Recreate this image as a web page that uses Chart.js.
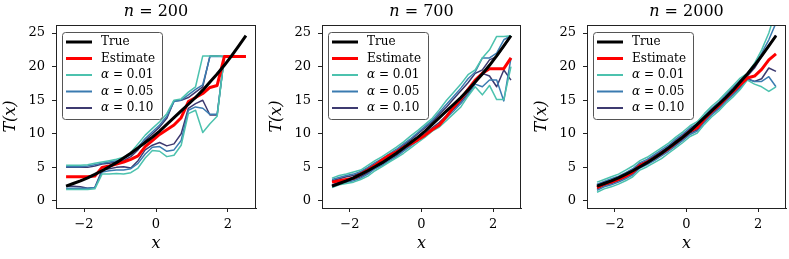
<!DOCTYPE html>
<html>
<head>
<meta charset="utf-8">
<script src="https://cdn.jsdelivr.net/npm/chart.js@4.4.0/dist/chart.umd.min.js"></script>
<style>
  body { margin: 0; background: #fff; }
  #wrap { position: relative; width: 789px; height: 259px; }
  .panel { position: absolute; top: 0; width: 263px; height: 259px; }
</style>
</head>
<body>
<div id="wrap">
  <div class="panel" style="left:0px"><canvas id="c1" width="263" height="259"></canvas></div>
  <div class="panel" style="left:263px"><canvas id="c2" width="263" height="259"></canvas></div>
  <div class="panel" style="left:526px"><canvas id="c3" width="263" height="259"></canvas></div>
</div>
<script>
// grid of x values and tick labels
const xs = [-2.5,-2.3,-2.1,-1.9,-1.7,-1.5,-1.3,-1.1,-0.9,-0.7,-0.5,-0.3,-0.1,0.1,0.3,0.5,0.7,0.9,1.1,1.3,1.5,1.7,1.9,2.1,2.3,2.5];
const xTicks = [-2, 0, 2];
const yTicks = [0, 5, 10, 15, 20, 25];
const sampleSizes = [200, 700, 2000];
const alphaLabels = ["0.01", "0.05", "0.10"];

// true curve (same in every panel)
const trueCurve = [2.2,2.6,3.0,3.45,3.95,4.5,5.1,5.7,6.4,7.1,7.9,8.7,9.5,10.4,11.4,12.4,13.4,14.4,15.4,16.5,17.7,18.9,20.2,21.6,23.1,24.6];

// n = 200
const est200 = [3.6,3.6,3.6,3.6,3.7,5.0,5.2,5.5,5.8,6.2,6.7,8.1,9.0,9.9,10.6,11.3,12.4,14.8,15.4,16.0,16.9,17.2,21.5,21.5,21.5,21.5];
const up01_200 = [5.3,5.3,5.3,5.4,5.6,5.8,6.0,6.2,6.5,7.2,8.5,9.8,10.8,11.8,13.0,15.0,15.2,16.2,17.0,21.6,21.6,21.6,21.5,21.5,21.5,21.5];
const up05_200 = [5.1,5.1,5.1,5.2,5.4,5.6,5.8,6.0,6.3,6.9,8.0,9.3,10.3,11.3,12.6,14.8,15.0,15.8,16.6,17.3,21.5,21.5,21.5,21.5,21.5,21.5];
const up10_200 = [5.0,5.0,5.0,5.0,5.2,5.5,5.6,5.8,6.0,6.6,7.6,9.0,10.0,11.0,12.3,14.9,15.0,15.4,16.2,17.0,21.6,21.6,21.5,21.5,21.5,21.5];
const lo01_200 = [1.7,1.7,1.7,1.7,1.8,4.0,4.0,4.1,4.0,4.2,4.9,6.4,7.5,7.4,6.6,6.8,8.3,13.0,13.5,10.2,11.5,12.6,21.5,21.5,21.5,21.5];
const lo05_200 = [1.9,1.9,1.9,1.9,2.0,4.3,4.5,4.6,4.6,4.8,5.6,7.0,8.0,8.1,7.4,7.6,9.0,13.5,14.0,13.8,12.9,12.9,21.5,21.5,21.5,21.5];
const lo10_200 = [2.2,2.2,2.1,1.9,2.0,4.6,4.8,5.0,5.1,4.9,6.0,7.6,8.3,8.7,8.2,8.5,10.0,13.8,14.5,15.0,12.8,12.8,21.5,21.5,21.5,21.5];

// n = 700
const est700 = [2.8,3.0,3.2,3.4,4.0,4.6,5.3,6.1,6.8,7.3,8.0,8.5,9.1,9.8,10.6,11.3,12.6,14.0,15.2,16.6,18.0,19.0,19.7,19.7,19.7,21.3];
const up01_700 = [3.4,3.8,4.0,4.3,4.6,5.3,6.0,6.6,7.3,8.0,8.8,9.7,10.5,11.4,12.3,13.6,15.0,16.2,17.4,18.8,19.5,21.3,22.5,24.5,24.5,24.6];
const up05_700 = [3.2,3.5,3.8,4.0,4.4,5.0,5.7,6.3,7.0,7.7,8.5,9.3,10.2,11.1,12.0,13.2,14.4,15.6,16.8,18.2,19.2,21.3,21.3,22.0,24.0,24.6];
const up10_700 = [3.0,3.3,3.6,3.8,4.2,4.9,5.5,6.2,6.8,7.5,8.3,9.1,10.0,10.9,11.8,12.9,14.0,15.2,16.4,17.6,19.0,19.5,21.0,21.5,23.0,24.6];
const lo01_700 = [2.0,2.4,2.6,2.8,3.2,3.7,4.5,5.1,5.8,6.4,7.1,7.9,8.7,9.5,10.4,11.0,12.0,13.0,14.0,15.6,17.0,15.8,17.2,15.1,15.1,20.0];
const lo05_700 = [2.2,2.6,2.8,3.0,3.4,4.0,4.8,5.3,6.0,6.6,7.4,8.2,9.0,9.8,10.7,11.4,12.4,13.4,14.5,15.8,17.4,17.0,18.0,18.0,14.9,21.3];
const lo10_700 = [2.4,2.8,3.0,3.2,3.6,4.2,5.0,5.5,6.2,6.8,7.6,8.4,9.2,10.0,10.9,11.7,12.7,13.7,14.8,16.0,17.6,19.0,18.6,17.0,19.5,18.0];

// n = 2000
const est2000 = [2.0,2.5,2.8,3.2,3.7,4.3,5.3,5.8,6.4,7.1,7.8,8.7,9.5,10.4,10.9,12.2,13.3,14.2,15.3,16.3,17.3,18.3,18.6,19.6,21.0,21.9];
const up01_2000 = [2.8,3.2,3.6,4.0,4.6,5.2,6.0,6.5,7.2,7.9,8.6,9.5,10.3,11.2,11.8,13.0,14.1,15.0,16.1,17.2,18.3,19.0,20.5,22.5,25.0,28.5];
const up05_2000 = [2.5,2.9,3.3,3.7,4.2,4.8,5.7,6.2,6.9,7.6,8.3,9.2,10.0,10.9,11.5,12.7,13.8,14.7,15.8,16.9,18.0,18.8,20.2,22.0,24.0,26.5];
const up10_2000 = [2.3,2.7,3.1,3.5,4.0,4.6,5.5,6.0,6.7,7.4,8.1,9.0,9.8,10.7,11.3,12.5,13.6,14.5,15.6,16.6,17.8,18.6,19.8,21.5,23.2,24.7];
const lo01_2000 = [1.3,1.8,2.1,2.5,3.0,3.6,4.6,5.1,5.7,6.3,7.1,7.9,8.7,9.6,10.1,11.4,12.5,13.4,14.5,15.5,16.6,18.0,17.4,17.0,16.3,17.0];
const lo05_2000 = [1.6,2.1,2.4,2.8,3.3,3.9,4.9,5.4,6.0,6.7,7.4,8.2,9.0,9.9,10.4,11.7,12.8,13.7,14.8,15.8,16.8,18.1,17.8,17.8,18.5,17.0];
const lo10_2000 = [1.8,2.3,2.6,3.0,3.5,4.1,5.1,5.6,6.2,6.9,7.6,8.4,9.2,10.1,10.6,11.9,13.0,13.9,15.0,16.0,17.0,18.2,17.8,18.2,19.8,19.3];

const alphaColors = ["#4cc2ae", "#3a7bb0", "#3d3a70"];
const serif = "'DejaVu Serif', 'Liberation Serif', serif";

function pts(arr) {
    return xs.map((x, i) => ({ x: x, y: arr[i] }));
}

// --- frame, title, axis labels and legend drawn on top ---
const decorations = {
    id: "decorations",
    afterDraw(chart, args, opts) {
        const ctx = chart.ctx;
        const a = chart.chartArea;
        ctx.save();

        // box around the axes
        ctx.strokeStyle = "#222";
        ctx.lineWidth = 1;
        ctx.strokeRect(a.left + 0.5, a.top + 0.5, a.right - a.left - 1, a.bottom - a.top);

        // title "n = ..."
        const cx = (a.left + a.right) / 2;
        ctx.fillStyle = "#000";
        ctx.textBaseline = "middle";
        ctx.font = "italic 16px " + serif;
        const wn = ctx.measureText("n").width;
        ctx.font = "16px " + serif;
        const rest = " = " + opts.n;
        const wr = ctx.measureText(rest).width;
        let tx = cx - (wn + wr) / 2;
        ctx.textAlign = "left";
        ctx.font = "italic 16px " + serif;
        ctx.fillText("n", tx, 12);
        ctx.font = "16px " + serif;
        ctx.fillText(rest, tx + wn, 12);

        // x label
        ctx.textAlign = "center";
        ctx.font = "italic 16px " + serif;
        ctx.fillText("x", cx, 244);

        // y label
        ctx.save();
        ctx.translate(a.left - 45, (a.top + a.bottom) / 2);
        ctx.rotate(-Math.PI / 2);
        ctx.fillText("T(x)", 0, 0);
        ctx.restore();

        // legend
        const lx = a.left + 6, ly = a.top + 7, lw = 100, lh = 87;
        ctx.beginPath();
        ctx.roundRect(lx + 0.5, ly + 0.5, lw, lh, 3);
        ctx.fillStyle = "rgba(255,255,255,0.85)";
        ctx.fill();
        ctx.strokeStyle = "#555";
        ctx.lineWidth = 1;
        ctx.stroke();

        const items = [
            { text: "True", color: "#000", w: 3, math: false },
            { text: "Estimate", color: "#ff0000", w: 3, math: false },
            { text: alphaLabels[0], color: alphaColors[0], w: 2, math: true },
            { text: alphaLabels[1], color: alphaColors[1], w: 2, math: true },
            { text: alphaLabels[2], color: alphaColors[2], w: 2, math: true }
        ];
        items.forEach((it, i) => {
            const y = ly + 10 + i * 16.5;
            ctx.beginPath();
            ctx.strokeStyle = it.color;
            ctx.lineWidth = it.w;
            ctx.moveTo(lx + 4, y);
            ctx.lineTo(lx + 30, y);
            ctx.stroke();
            ctx.fillStyle = "#000";
            ctx.textAlign = "left";
            if (it.math) {
                ctx.font = "italic 12px " + serif;
                ctx.fillText("\u03b1", lx + 39, y);
                const wa = ctx.measureText("\u03b1").width;
                ctx.font = "12px " + serif;
                ctx.fillText(" = " + it.text, lx + 39 + wa, y);
            } else {
                ctx.font = "12px " + serif;
                ctx.fillText(it.text, lx + 39, y);
            }
        });
        ctx.restore();
    }
};

function makePanel(id, n, est, ups, los, areaLeft, areaRight) {
    const datasets = [
        { label: "True", data: pts(trueCurve), borderColor: "#000", borderWidth: 3 },
        { label: "Estimate", data: pts(est), borderColor: "#ff0000", borderWidth: 3 }
    ];
    ups.forEach((u, k) => datasets.push({ label: "a" + k, data: pts(u), borderColor: alphaColors[k], borderWidth: 1.5 }));
    los.forEach((l, k) => datasets.push({ label: "b" + k, data: pts(l), borderColor: alphaColors[k], borderWidth: 1.5 }));
    datasets.forEach(d => {
        d.pointRadius = 0;
        d.fill = false;
        d.tension = 0;
        d.clip = 0;
        d.borderJoinStyle = "round";
    });

    new Chart(document.getElementById(id), {
        type: "line",
        data: { datasets: datasets },
        options: {
            responsive: false,
            animation: false,
            layout: { padding: { left: 0, right: 263 - areaRight, top: 25, bottom: 0 } },
            plugins: {
                legend: { display: false },
                tooltip: { enabled: false },
                decorations: { n: n }
            },
            scales: {
                x: {
                    type: "linear",
                    min: -2.78,
                    max: 2.78,
                    afterBuildTicks: s => { s.ticks = xTicks.map(v => ({ value: v })); },
                    afterFit: s => { s.height = 51; },
                    grid: { drawOnChartArea: false, drawTicks: true, tickLength: 4, color: "#222" },
                    border: { display: true, color: "#222" },
                    ticks: {
                        color: "#000",
                        padding: 5,
                        maxRotation: 0,
                        font: { family: serif, size: 13 },
                        callback: v => (v < 0 ? "\u2212" + Math.abs(v) : String(v))
                    }
                },
                y: {
                    min: -1.05,
                    max: 26.2,
                    afterBuildTicks: s => { s.ticks = yTicks.map(v => ({ value: v })); },
                    afterFit: s => { s.width = areaLeft; },
                    grid: { drawOnChartArea: false, drawTicks: true, tickLength: 4, color: "#222" },
                    border: { display: true, color: "#222" },
                    ticks: {
                        color: "#000",
                        padding: 7,
                        font: { family: serif, size: 13 }
                    }
                }
            }
        },
        plugins: [decorations]
    });
}

makePanel("c1", sampleSizes[0], est200, [up01_200, up05_200, up10_200], [lo01_200, lo05_200, lo10_200], 56, 256);
makePanel("c2", sampleSizes[1], est700, [up01_700, up05_700, up10_700], [lo01_700, lo05_700, lo10_700], 59, 258);
makePanel("c3", sampleSizes[2], est2000, [up01_2000, up05_2000, up10_2000], [lo01_2000, lo05_2000, lo10_2000], 61, 260);
</script>
</body>
</html>
